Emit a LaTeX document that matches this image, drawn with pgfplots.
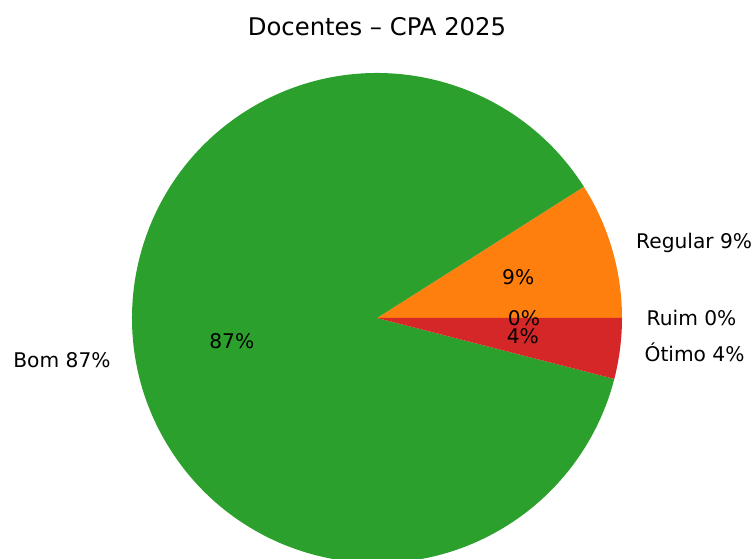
\documentclass[border=0pt]{standalone}
\usepackage{pgfplots}
\pgfplotsset{compat=1.18}
\usepackage{fontspec}
\setmainfont{DejaVu Sans}
\definecolor{mplblue}{HTML}{1F77B4}
\definecolor{mplorange}{HTML}{FF7F0E}
\definecolor{mplgreen}{HTML}{2CA02C}
\definecolor{mplred}{HTML}{D62728}
\begin{document}
\begin{tikzpicture}
\useasboundingbox (0,0) rectangle (753pt,559pt);
\begin{axis}[scale only axis, width=753pt, height=559pt, anchor=south west, at={(0,0)},
  xmin=0, xmax=753, ymin=0, ymax=559, hide axis, clip=true]
% values: Ruim 0, Regular 9, Bom 87, Otimo 4 (percent); angle = cumulative percent * 3.6
\fill[mplblue]   (axis cs:377,241) -- +({0*3.6}:245pt)  arc[start angle={0*3.6},  end angle={0*3.6},   radius=245pt] -- cycle;
\fill[mplorange] (axis cs:377,241) -- +({0*3.6}:245pt)  arc[start angle={0*3.6},  end angle={9*3.6},   radius=245pt] -- cycle;
\fill[mplgreen]  (axis cs:377,241) -- +({9*3.6}:245pt)  arc[start angle={9*3.6},  end angle={96*3.6},  radius=245pt] -- cycle;
\fill[mplred]    (axis cs:377,241) -- +({96*3.6}:245pt) arc[start angle={96*3.6}, end angle={100*3.6}, radius=245pt] -- cycle;
% outer labels
\node[anchor=west, font=\fontsize{20.2}{24}\selectfont, inner sep=0pt] at (axis cs:636,316) {Regular 9\%};
\node[anchor=west, font=\fontsize{20.2}{24}\selectfont, inner sep=0pt] at (axis cs:646.5,241) {Ruim 0\%};
\node[anchor=west, font=\fontsize{20.2}{24}\selectfont, inner sep=0pt] at (axis cs:644.4,207.2) {Ótimo 4\%};
\node[anchor=east, font=\fontsize{20.2}{24}\selectfont, inner sep=0pt] at (axis cs:110.8,199) {Bom 87\%};
% inner labels
\node[font=\fontsize{20.2}{24}\selectfont, inner sep=0pt] at (axis cs:518.2,282) {9\%};
\node[font=\fontsize{20.2}{24}\selectfont, inner sep=0pt] at (axis cs:524,241) {0\%};
\node[font=\fontsize{20.2}{24}\selectfont, inner sep=0pt] at (axis cs:522.8,222.6) {4\%};
\node[font=\fontsize{20.2}{24}\selectfont, inner sep=0pt] at (axis cs:231.8,218) {87\%};
% title
\node[font=\fontsize{24.3}{29}\selectfont, inner sep=0pt] at (axis cs:377,532) {Docentes – CPA 2025};
\end{axis}
\end{tikzpicture}
\end{document}
